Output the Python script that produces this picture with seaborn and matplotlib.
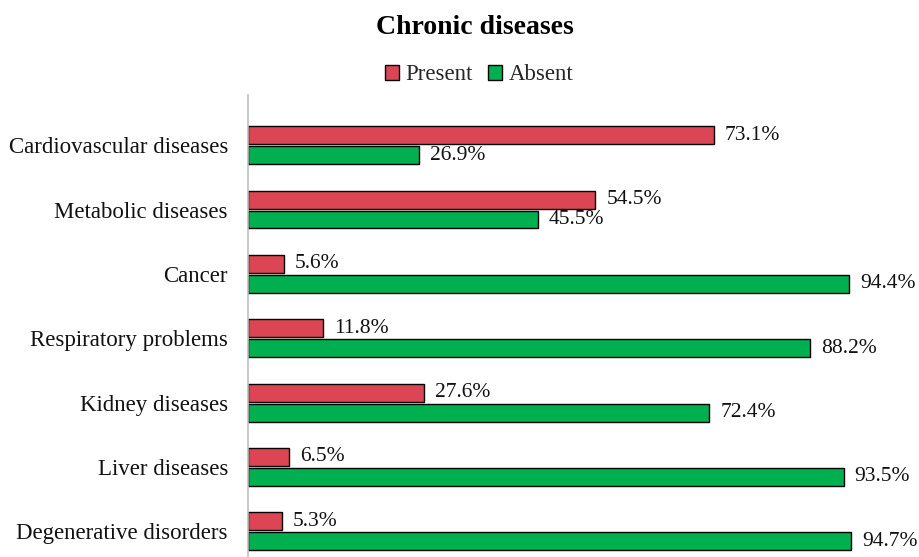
import matplotlib
matplotlib.use("Agg")
import matplotlib.pyplot as plt
import seaborn as sns
import pandas as pd

categories = ["Cardiovascular diseases", "Metabolic diseases", "Cancer",
              "Respiratory problems", "Kidney diseases", "Liver diseases",
              "Degenerative disorders"]
present = [73.1, 54.5, 5.6, 11.8, 27.6, 6.5, 5.3]
absent = [26.9, 45.5, 94.4, 88.2, 72.4, 93.5, 94.7]
series = ["Present", "Absent"]

df = pd.DataFrame({
    "Disease": categories * 2,
    "Value": present + absent,
    "Status": [series[0]] * len(categories) + [series[1]] * len(categories),
})

sns.set_theme(style="white")
plt.rcParams["font.family"] = ["Liberation Serif", "DejaVu Serif"]

fig = plt.figure(figsize=(9.19, 5.57), dpi=100)
ax = fig.add_axes([248 / 919, 0.0, (885 - 248) / 919, 1 - 95 / 557])

palette = {"Present": "#DC4654", "Absent": "#00B050"}
sns.barplot(data=df, y="Disease", x="Value", hue="Status", order=categories,
            hue_order=series, palette=palette, saturation=1, orient="h",
            width=0.62, gap=0.1, edgecolor="black", linewidth=1.0, ax=ax,
            legend=True)

for cont in ax.containers:
    ax.bar_label(cont, labels=[f"{v:.1f}%" for v in cont.datavalues],
                 padding=8, fontsize=15.5, color="#111111")

ax.set_xlim(0, 100)
ax.set_ylim(6.40, -0.78)
ax.set_xlabel("")
ax.set_ylabel("")
ax.set_xticks([])
ax.tick_params(axis="y", length=0, labelsize=16.5, pad=14.4)
for lab in ax.get_yticklabels():
    lab.set_color("#111111")
for s in ["top", "right", "bottom"]:
    ax.spines[s].set_visible(False)
ax.spines["left"].set_color("#BFBFBF")
ax.spines["left"].set_linewidth(1.2)

ax.get_legend().remove()
handles, labels = ax.get_legend_handles_labels()
fig.legend(handles, labels, loc="center", bbox_to_anchor=(479 / 919, 1 - 75 / 557),
           ncol=2, frameon=False, fontsize=16.5, handlelength=0.6,
           handleheight=0.6, handletextpad=0.3, columnspacing=0.65)

fig.text(475 / 919, 1 - 27 / 557, "Chronic diseases", ha="center", va="center",
         fontsize=20, fontweight="bold", color="black")

fig.savefig("out.png", dpi=100)
